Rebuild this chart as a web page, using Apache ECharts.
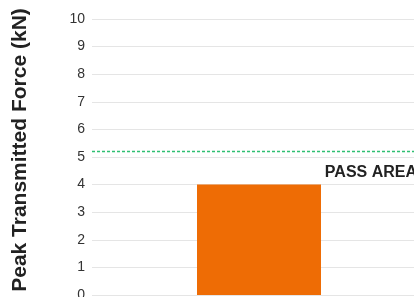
<!DOCTYPE html>
<html><head><meta charset="utf-8">
<script src="https://cdn.jsdelivr.net/npm/echarts@6/dist/echarts.min.js"></script>
<style>html,body{margin:0;padding:0;background:#fff}#c{width:414px;height:297px}</style>
</head><body><div id="c"></div>
<script>
const categories = ['Sample'];
const peakForce = [4.0];
const passThreshold = 5.2;
const yTicks = { min: 0, max: 10, interval: 1 };
const yAxisTitle = 'Peak Transmitted Force (kN)';
const passLabel = 'PASS AREA';

const passLineStyle = { color: '#2fbf72', type: [3, 2], width: 1.4, opacity: 1 };

const chart = echarts.init(document.getElementById('c'), null, { renderer: 'canvas' });
chart.setOption({
  animation: false,
  grid: { left: 92, top: 19, width: 334, height: 276, containLabel: false, outerBoundsMode: 'none' },
  xAxis: {
    type: 'category', data: categories,
    axisLine: { show: false }, axisTick: { show: false },
    axisLabel: { show: false }
  },
  yAxis: {
    type: 'value', min: yTicks.min, max: yTicks.max, interval: yTicks.interval,
    name: yAxisTitle, nameLocation: 'middle', nameGap: 61,
    nameTextStyle: { fontFamily: 'Liberation Sans', fontWeight: 'bold', fontSize: 21, color: '#222', padding: [0, 0, 0, 14] },
    axisLine: { show: false }, axisTick: { show: false },
    axisLabel: { fontFamily: 'Liberation Sans', fontSize: 14, color: '#333', margin: 7 },
    splitLine: { lineStyle: { color: '#e5e5e5', width: 1 } }
  },
  series: [{
    type: 'bar', data: peakForce, barWidth: 124,
    itemStyle: { color: '#EE6C05' },
    markLine: {
      symbol: 'none', silent: true,
      lineStyle: passLineStyle,
      emphasis: { disabled: true },
      label: {
        show: true, formatter: passLabel, position: 'insideEndBottom',
        fontFamily: 'Liberation Sans', fontWeight: 'bold', fontSize: 16, color: '#222',
        distance: [9, 13]
      },
      data: [{ yAxis: passThreshold, lineStyle: passLineStyle }]
    }
  }]
});
</script></body></html>
